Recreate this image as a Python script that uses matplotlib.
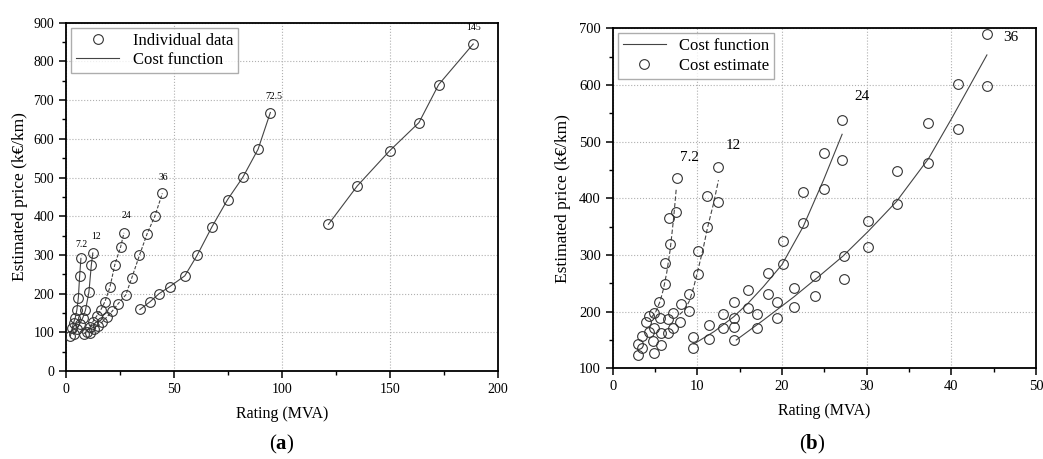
import matplotlib
matplotlib.use("Agg")
import matplotlib.pyplot as plt
from matplotlib.ticker import MultipleLocator

plt.rcParams['font.family'] = ['Liberation Serif', 'DejaVu Serif']
plt.rcParams['mathtext.fontset'] = 'custom'
plt.rcParams['mathtext.rm'] = 'Liberation Serif'
plt.rcParams['mathtext.bf'] = 'Liberation Serif:bold'

# ---- panel (a): individual data per voltage level (kV) ----
a_labels = ['7.2', '12', '24', '36', '72.5', '145']
a_x = [
    [2.0, 2.8, 3.5, 4.3, 5.0, 5.7, 6.3, 6.9],
    [3.5, 4.9, 6.3, 7.8, 9.0, 10.6, 11.7, 12.4],
    [8.1, 9.5, 11.0, 12.4, 14.2, 16.0, 18.0, 20.3, 22.6, 25.3, 26.8],
    [10.9, 12.9, 14.9, 16.8, 18.8, 21.3, 24.0, 27.7, 30.4, 34.0, 37.5, 41.1, 44.6],
    [34.2, 38.9, 43.1, 48.0, 55.0, 60.7, 67.5, 74.8, 81.9, 88.9, 94.6],
    [121.5, 134.8, 149.8, 163.4, 172.5, 188.5],
]
a_y = [
    [90, 110, 125, 138, 157, 189, 245, 291],
    [95, 108, 121, 138, 157, 204, 273, 305],
    [96, 101, 114, 127, 142, 157, 179, 216, 275, 321, 357],
    [98, 108, 116, 127, 139, 154, 173, 197, 240, 299, 354, 400, 459],
    [159, 179, 200, 218, 246, 299, 372, 443, 501, 573, 668],
    [379, 478, 569, 642, 740, 845],
]
a_label_pos = [(7.0, 316), (13.7, 336), (28.1, 391), (45.1, 488), (96.0, 697), (188.5, 875)]
a_styles = ['-', '-', (0, (3, 1.5)), (0, (3, 1.5)), '-', '-']

# ---- panel (b): cost estimates and fitted cost functions ----
b_labels = ['7.2', '12', '24', '36']
b_est_x = [
    [2.95, 2.95, 3.43, 3.5, 3.93, 4.33, 4.33, 4.8, 4.84, 4.84, 4.84, 5.5, 5.7, 5.7, 5.58,
     6.18, 6.14, 6.5, 6.57, 6.77, 6.69, 7.09, 7.16, 7.48, 7.56],
    [8.03, 7.95, 9.05, 9.05, 10.1, 10.1, 11.17, 11.17, 12.48, 12.48],
    [9.52, 9.52, 11.4, 11.4, 12.99, 12.99, 14.33, 14.33, 16.0, 16.0, 18.34, 18.34,
     20.08, 20.08, 22.44, 22.44, 24.96, 24.96, 27.12, 27.12],
    [14.33, 14.33, 17.08, 17.08, 19.44, 19.44, 21.41, 21.41, 23.93, 23.93, 27.32, 27.32,
     30.2, 30.2, 33.58, 33.58, 37.28, 37.28, 40.79, 40.79, 44.21, 44.21],
]
b_est_y = [
    [123.5, 142.9, 135.3, 157, 182, 192, 164.6, 148.7, 127.5, 197, 171, 217.5, 141, 162.8, 188,
     248, 285, 163, 187, 318.8, 366, 197, 170.6, 376, 435],
    [213.5, 181, 232, 201.7, 266, 307.5, 350, 404, 394, 455.8],
    [135, 154.7, 152, 176, 170.6, 195, 216.5, 188, 206, 238, 267.6, 232,
     283.5, 325, 357, 411.6, 479.4, 415.9, 539, 467.6],
    [150, 173.4, 170.6, 196, 217.5, 189, 241, 208.7, 263, 228, 298, 258,
     360, 313.5, 449, 390, 533, 462.8, 601, 521.8, 690, 598],
]
b_fit_x = [
    [4.6, 5.1, 5.6, 6.0, 6.4, 6.8, 7.2, 7.5],
    [7.9, 8.5, 9.1, 9.6, 10.1, 10.7, 11.2, 11.9, 12.5],
    [9.6, 12.0, 14.3, 16.0, 17.8, 20.0, 22.5, 24.9, 27.1],
    [14.6, 17.8, 21.4, 24.5, 27.2, 30.2, 33.5, 37.3, 40.0, 44.2],
]
b_fit_y = [
    [190, 200, 218, 240, 270, 310, 365, 415],
    [195, 203, 220, 245, 275, 312, 348, 390, 432],
    [143, 165, 191, 215, 244, 283, 350, 432, 513],
    [150, 185, 226, 264, 298, 342, 394, 470, 540, 653],
]
b_label_pos = [(9.05, 460), (14.2, 482), (29.5, 568), (47.0, 673)]
b_styles = [(0, (4, 2)), (0, (4, 2)), '-', '-']

fig = plt.figure(figsize=(10.43, 4.59), dpi=100)
ax1 = fig.add_axes([0.0633, 0.1917, 0.4142, 0.7588])
ax2 = fig.add_axes([0.5874, 0.1976, 0.4059, 0.7407])

mk = dict(marker='o', markersize=7, markerfacecolor='none', markeredgecolor='#333333',
          markeredgewidth=0.8)

# panel (a)
for i, lab in enumerate(a_labels):
    ax1.plot(a_x[i], a_y[i], color='#444444', lw=0.8, ls=a_styles[i], zorder=2)
    ax1.plot(a_x[i], a_y[i], ls='none', zorder=3, **mk)
    ax1.text(a_label_pos[i][0], a_label_pos[i][1], lab, fontsize=7, ha='center', va='bottom')
ax1.plot([], [], ls='none', label='Individual data', **mk)
ax1.plot([], [], color='#444444', lw=0.8, label='Cost function')

ax1.set_xlim(0, 200)
ax1.set_ylim(0, 900)
ax1.xaxis.set_major_locator(MultipleLocator(50))
ax1.xaxis.set_minor_locator(MultipleLocator(25))
ax1.yaxis.set_major_locator(MultipleLocator(100))
ax1.yaxis.set_minor_locator(MultipleLocator(50))
ax1.set_xlabel('Rating (MVA)', fontsize=11.5, labelpad=7)
ax1.set_ylabel('Estimated price (k€/km)', fontsize=12.5, labelpad=4)
ax1.legend(loc='upper left', fontsize=12, frameon=True, fancybox=False, edgecolor='#999999',
           borderaxespad=0.3, handlelength=2.6, borderpad=0.3, labelspacing=0.2)

# panel (b)
for i, lab in enumerate(b_labels):
    ax2.plot(b_fit_x[i], b_fit_y[i], color='#444444', lw=0.8, ls=b_styles[i], zorder=2)
    ax2.plot(b_est_x[i], b_est_y[i], ls='none', zorder=3, **mk)
    ax2.text(b_label_pos[i][0], b_label_pos[i][1], lab, fontsize=11, ha='center', va='bottom')
ax2.plot([], [], color='#444444', lw=0.8, label='Cost function')
ax2.plot([], [], ls='none', label='Cost estimate', **mk)

ax2.set_xlim(0, 50)
ax2.set_ylim(100, 700)
ax2.xaxis.set_major_locator(MultipleLocator(10))
ax2.xaxis.set_minor_locator(MultipleLocator(5))
ax2.yaxis.set_major_locator(MultipleLocator(100))
ax2.yaxis.set_minor_locator(MultipleLocator(50))
ax2.set_xlabel('Rating (MVA)', fontsize=11.5, labelpad=7)
ax2.set_ylabel('Estimated price (k€/km)', fontsize=12.5, labelpad=6)
ax2.legend(loc='upper left', fontsize=12, frameon=True, fancybox=False, edgecolor='#999999',
           borderaxespad=0.3, handlelength=2.6, borderpad=0.3, labelspacing=0.2)

for ax, fs in ((ax1, 10), (ax2, 10.5)):
    ax.grid(True, which='major', ls=':', color='#b0b0b0', lw=0.8)
    ax.set_axisbelow(True)
    for s in ax.spines.values():
        s.set_linewidth(1.3)
    ax.tick_params(which='major', direction='out', length=5, width=1.1, labelsize=fs)
    ax.tick_params(which='minor', direction='out', length=3, width=1.0)

fig.text(0.27, 0.02, r'($\mathbf{a}$)', fontsize=15, ha='center')
fig.text(0.779, 0.02, r'($\mathbf{b}$)', fontsize=15, ha='center')

fig.savefig('out.png', dpi=100)
